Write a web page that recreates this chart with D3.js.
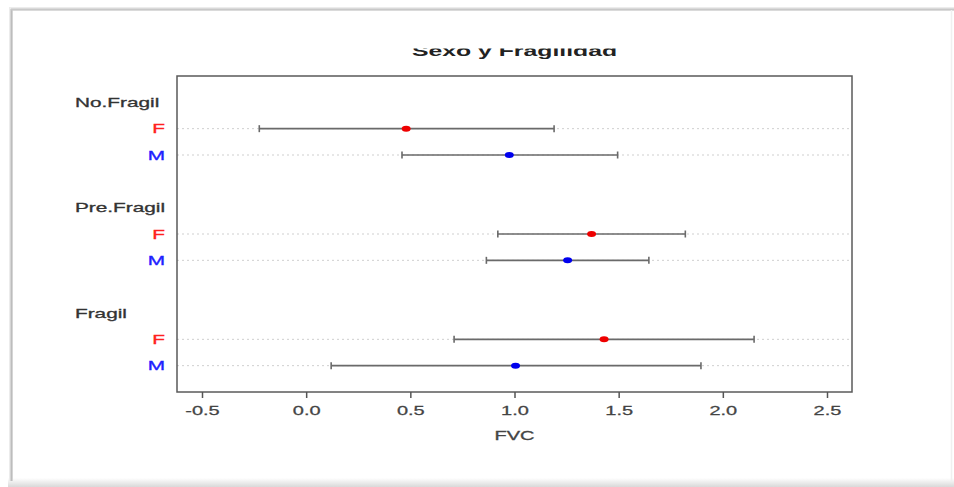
<!DOCTYPE html>
<html>
<head>
<meta charset="utf-8">
<script src="https://cdn.jsdelivr.net/npm/d3@7"></script>
<style>
html,body{margin:0;padding:0;background:#fff;}
svg{display:block;}
text{font-family:"Liberation Sans",Arial,Helvetica,sans-serif;}
</style>
</head>
<body>
<script>
const groups = ["No.Fragil", "Pre.Fragil", "Fragil"];
const sexes = ["F", "M"];
const meanF = [0.48, 1.37, 1.43];
const meanM = [0.975, 1.255, 1.005];
const lowF = [-0.225, 0.92, 0.71];
const lowM = [0.46, 0.865, 0.12];
const highF = [1.19, 1.82, 2.15];
const highM = [1.495, 1.645, 1.895];
const xTicks = [-0.5, 0.0, 0.5, 1.0, 1.5, 2.0, 2.5];
const sexColors = {F: "#ff2020", M: "#2020ff"};

const W = 954, H = 487;
const SX = 1.6; // horizontal stretch of the original screenshot

const svg = d3.select("body").append("svg").attr("width", W).attr("height", H);

// outer frame with soft shadow
const defs = svg.append("defs");
const gb = defs.append("linearGradient").attr("id","shB").attr("x1",0).attr("y1",0).attr("x2",0).attr("y2",1);
gb.append("stop").attr("offset","0%").attr("stop-color","#fff");
gb.append("stop").attr("offset","100%").attr("stop-color","#d9d9d9");
svg.append("rect").attr("x", 8).attr("y", 478).attr("width", 946).attr("height", 9).attr("fill", "url(#shB)");
svg.append("rect").attr("x", 9).attr("y", 7).attr("width", 945).attr("height", 4).attr("fill", "#ececec");
svg.append("rect").attr("x", 9).attr("y", 7).attr("width", 4).attr("height", 474).attr("fill", "#ececec");
svg.append("line").attr("x1", 11.5).attr("x2", 11.5).attr("y1", 9).attr("y2", 481).attr("stroke", "#bdbdbd").attr("stroke-width", 2);
svg.append("line").attr("x1", 11).attr("x2", 954).attr("y1", 9.5).attr("y2", 9.5).attr("stroke", "#c8c8c8").attr("stroke-width", 2);
svg.append("line").attr("x1", 951.5).attr("x2", 951.5).attr("y1", 10).attr("y2", 481).attr("stroke", "#f0f0f0").attr("stroke-width", 1.5);

const x = d3.scaleLinear().domain([-0.62, 2.62]).range([177, 852]);
const y = d3.scaleLinear().domain([0, 12]).range([392, 76]);

// rows
const rows = [];
groups.forEach((g, i) => {
  rows.push({type: "head", label: g, pos: 11 - 4 * i});
  rows.push({type: "row", label: "F", pos: 10 - 4 * i, mean: meanF[i], lo: lowF[i], hi: highF[i]});
  rows.push({type: "row", label: "M", pos: 9 - 4 * i, mean: meanM[i], lo: lowM[i], hi: highM[i]});
});
const dataRows = rows.filter(r => r.type === "row");

// dotted guide lines
svg.append("g").selectAll("line").data(dataRows).join("line")
  .attr("x1", x.range()[0]).attr("x2", x.range()[1])
  .attr("y1", d => y(d.pos)).attr("y2", d => y(d.pos))
  .attr("stroke", "#cfcfcf").attr("stroke-width", 1).attr("stroke-dasharray", "2,3");

// error bars
const eb = svg.append("g").attr("stroke", "#6a6a6a").attr("stroke-width", 1.6);
eb.selectAll("line.bar").data(dataRows).join("line").attr("class", "bar")
  .attr("x1", d => x(d.lo)).attr("x2", d => x(d.hi))
  .attr("y1", d => y(d.pos)).attr("y2", d => y(d.pos));
eb.selectAll("line.capL").data(dataRows).join("line").attr("class", "capL")
  .attr("x1", d => x(d.lo)).attr("x2", d => x(d.lo))
  .attr("y1", d => y(d.pos) - 3.5).attr("y2", d => y(d.pos) + 3.5);
eb.selectAll("line.capH").data(dataRows).join("line").attr("class", "capH")
  .attr("x1", d => x(d.hi)).attr("x2", d => x(d.hi))
  .attr("y1", d => y(d.pos) - 3.5).attr("y2", d => y(d.pos) + 3.5);

// points
svg.append("g").selectAll("ellipse").data(dataRows).join("ellipse")
  .attr("cx", d => x(d.mean)).attr("cy", d => y(d.pos))
  .attr("rx", 4.5).attr("ry", 3)
  .attr("fill", d => d.label === "F" ? "#ee0000" : "#0000ee");

// plot box
svg.append("rect").attr("x", x.range()[0]).attr("y", y.range()[1])
  .attr("width", x.range()[1] - x.range()[0]).attr("height", y.range()[0] - y.range()[1])
  .attr("fill", "none").attr("stroke", "#5a5a5a").attr("stroke-width", 1.5);

// x axis
const ax = svg.append("g").attr("transform", `translate(0,${y.range()[0]})`)
  .call(d3.axisBottom(x).tickValues(xTicks).tickFormat(d3.format(".1f")).tickSize(6).tickPadding(8));
ax.select(".domain").remove();
ax.selectAll(".tick line").attr("stroke", "#555").attr("stroke-width", 1.5);
ax.selectAll(".tick text").attr("font-size", 12.5).attr("fill", "#444")
  .attr("stroke", "#444").attr("stroke-width", 0.25)
  .attr("font-family", "Liberation Sans, Arial, sans-serif")
  .attr("transform", `scale(${SX},1)`)
  .text(d => d3.format(".1f")(d).replace("−", "-"));

// stretched text helper
function stext(tx, ty, str, size, anchor, color, weight) {
  return svg.append("text")
    .attr("transform", `translate(${tx},${ty}) scale(${SX},1)`)
    .attr("text-anchor", anchor).attr("font-size", size)
    .attr("font-weight", weight || "normal")
    .attr("fill", color).attr("stroke", color).attr("stroke-width", 0.3)
    .attr("dy", "0.35em").text(str);
}

// row labels
rows.forEach(r => {
  if (r.type === "head") stext(75, y(r.pos), r.label, 13, "start", "#333");
  else stext(165, y(r.pos), r.label, 13, "end", sexColors[r.label]);
});

// x label
stext((x.range()[0] + x.range()[1]) / 2, 436, "FVC", 12.5, "middle", "#444");

// title (top part clipped as in the original)
defs.append("clipPath").attr("id", "tclip").append("rect").attr("x", 0).attr("y", 48.5).attr("width", W).attr("height", 20);
svg.append("g").attr("clip-path", "url(#tclip)").append("text")
  .attr("transform", `translate(${(x.range()[0] + x.range()[1]) / 2},56) scale(${SX},1)`)
  .attr("text-anchor", "middle").attr("font-size", 15.5).attr("font-weight", "bold")
  .attr("fill", "#222").text("Sexo y Fragilidad");
</script>
</body>
</html>
